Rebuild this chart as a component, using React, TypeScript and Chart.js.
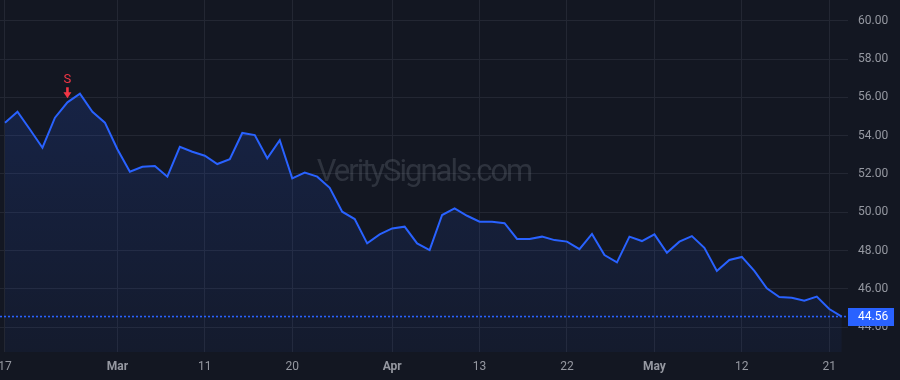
import React, { useEffect, useRef } from 'react';
import { Chart, registerables } from 'chart.js';

Chart.register(...registerables);

// ---- data ----
const prices: number[] = [
  54.68, 55.25, 54.32, 53.37, 54.94, 55.74, 56.19, 55.25, 54.68, 53.29,
  52.12, 52.38, 52.42, 51.86, 53.42, 53.16, 52.95, 52.52, 52.77, 54.14,
  54.03, 52.82, 53.76, 51.77, 52.07, 51.86, 51.28, 50.03, 49.65, 48.38,
  48.85, 49.16, 49.25, 48.38, 48.03, 49.86, 50.21, 49.82, 49.51, 49.51,
  49.43, 48.61, 48.61, 48.73, 48.55, 48.47, 48.08, 48.87, 47.77, 47.39,
  48.73, 48.5, 48.85, 47.89, 48.47, 48.76, 48.15, 46.94, 47.51, 47.67,
  46.94, 46.03, 45.58, 45.54, 45.39, 45.6, 44.95, 44.56,
];
const xTickIndices: number[] = [0, 9, 16, 23, 31, 38, 45, 52, 59, 66];
const xTickLabels: string[] = ['17', 'Mar', '11', '20', 'Apr', '13', '22', 'May', '12', '21'];
const monthLabels: string[] = ['Mar', 'Apr', 'May'];
const yTickValues: number[] = [44, 46, 48, 50, 52, 54, 56, 58, 60];
const signalIndices: number[] = [5];
const signalLabels: string[] = ['S'];
const watermarkText = 'VeritySignals.com';

const BG = '#131722';
const LINE = '#2962ff';
const GRID = '#232733';
const TEXT = '#9598a1';
const RED = '#f23645';
const FONT = "Roboto, 'Liberation Sans', sans-serif";

export default function App() {
  const ref = useRef<HTMLCanvasElement | null>(null);

  useEffect(() => {
    document.body.style.margin = '0';
    document.body.style.background = BG;
    const canvas = ref.current;
    if (!canvas) return;

    const bgPlugin = {
      id: 'bg',
      beforeDraw(chart: any) {
        const c = chart.ctx;
        c.save();
        c.fillStyle = BG;
        c.fillRect(0, 0, chart.width, chart.height);
        c.restore();
      },
    };

    const watermarkPlugin = {
      id: 'watermark',
      beforeDatasetsDraw(chart: any) {
        const c = chart.ctx;
        const a = chart.chartArea;
        c.save();
        c.font = `31px ${FONT}`;
        (c as any).letterSpacing = '-2px';
        c.fillStyle = 'rgba(120,124,136,0.28)';
        c.textAlign = 'center';
        c.textBaseline = 'middle';
        c.fillText(watermarkText, (a.left + a.right) / 2, (a.top + a.bottom) / 2 - 3);
        c.restore();
      },
    };

    const overlayPlugin = {
      id: 'overlay',
      afterDatasetsDraw(chart: any) {
        const c = chart.ctx;
        const a = chart.chartArea;
        const xs = chart.scales.x;
        const ys = chart.scales.y;
        const last = prices[prices.length - 1];
        const py = ys.getPixelForValue(last);
        c.save();
        // dotted last price line
        c.strokeStyle = LINE;
        c.lineWidth = 1.6;
        c.setLineDash([2, 2]);
        c.beginPath();
        c.moveTo(a.left, py);
        c.lineTo(a.right, py);
        c.stroke();
        c.setLineDash([]);
        // signals
        signalIndices.forEach((idx, k) => {
          const sx = xs.getPixelForValue(idx);
          const sy = ys.getPixelForValue(prices[idx]);
          c.fillStyle = RED;
          const tip = sy - 4;
          c.beginPath();
          c.moveTo(sx - 1.3, tip - 11);
          c.lineTo(sx + 1.3, tip - 11);
          c.lineTo(sx + 1.3, tip - 6);
          c.lineTo(sx + 4, tip - 6);
          c.lineTo(sx, tip);
          c.lineTo(sx - 4, tip - 6);
          c.lineTo(sx - 1.3, tip - 6);
          c.closePath();
          c.fill();
          c.font = `13px ${FONT}`;
          c.textAlign = 'center';
          c.textBaseline = 'middle';
          c.fillText(signalLabels[k], sx, tip - 18.5);
        });
        c.restore();
      },
      afterDraw(chart: any) {
        const c = chart.ctx;
        const a = chart.chartArea;
        const ys = chart.scales.y;
        const last = prices[prices.length - 1];
        const py = ys.getPixelForValue(last);
        c.save();
        c.fillStyle = LINE;
        c.fillRect(a.right, Math.round(py) - 9, 46, 18);
        c.fillStyle = '#ffffff';
        c.font = `12px ${FONT}`;
        c.textAlign = 'left';
        c.textBaseline = 'middle';
        c.fillText(last.toFixed(2), a.right + 10, py + 0.5);
        c.restore();
      },
    };

    const chart = new Chart(canvas, {
      type: 'line',
      data: {
        datasets: [
          {
            data: prices.map((v, i) => ({ x: i, y: v })),
            borderColor: LINE,
            borderWidth: 2,
            pointRadius: 0,
            tension: 0,
            fill: 'start',
            backgroundColor: (ctx: any) => {
              const ch = ctx.chart;
              const a = ch.chartArea;
              if (!a) return 'rgba(41,98,255,0.12)';
              const g = ch.ctx.createLinearGradient(0, a.top + 90, 0, a.bottom);
              g.addColorStop(0, 'rgba(41,98,255,0.16)');
              g.addColorStop(1, 'rgba(41,98,255,0.05)');
              return g;
            },
          },
        ],
      },
      options: {
        responsive: false,
        animation: false,
        devicePixelRatio: 1,
        layout: { padding: 0 },
        plugins: {
          legend: { display: false },
          tooltip: { enabled: false },
        },
        scales: {
          x: {
            type: 'linear',
            min: -0.4,
            max: 67.5,
            border: { display: false },
            grid: { color: GRID, drawTicks: false, lineWidth: 1 },
            afterBuildTicks: (s: any) => {
              s.ticks = xTickIndices.map((v) => ({ value: v }));
            },
            afterFit: (s: any) => {
              s.height = 28;
              s.paddingLeft = 0;
              s.paddingRight = 0;
            },
            ticks: {
              autoSkip: false,
              maxRotation: 0,
              padding: 8,
              color: TEXT,
              font: (ctx: any) => {
                const i = xTickIndices.indexOf(ctx.tick ? ctx.tick.value : -1);
                const lab = i >= 0 ? xTickLabels[i] : '';
                return {
                  family: FONT,
                  size: 12,
                  weight: monthLabels.includes(lab) ? 'bold' : 'normal',
                };
              },
              callback: (v: any) => {
                const i = xTickIndices.indexOf(Number(v));
                return i >= 0 ? xTickLabels[i] : '';
              },
            },
          },
          y: {
            type: 'linear',
            position: 'right',
            min: 42.71,
            max: 61.08,
            border: { display: false },
            grid: { color: GRID, drawTicks: false, lineWidth: 1 },
            afterBuildTicks: (s: any) => {
              s.ticks = yTickValues.map((v) => ({ value: v }));
            },
            afterFit: (s: any) => {
              s.width = 52;
              s.paddingTop = 0;
              s.paddingBottom = 0;
            },
            ticks: {
              padding: 10,
              color: TEXT,
              font: { family: FONT, size: 12 },
              callback: (v: any) => Number(v).toFixed(2),
            },
          },
        },
      },
      plugins: [bgPlugin, watermarkPlugin, overlayPlugin],
    } as any);

    return () => chart.destroy();
  }, []);

  return (
    <div style={{ width: 900, height: 380, background: BG }}>
      <canvas ref={ref} width={900} height={380} style={{ display: 'block' }} />
    </div>
  );
}
